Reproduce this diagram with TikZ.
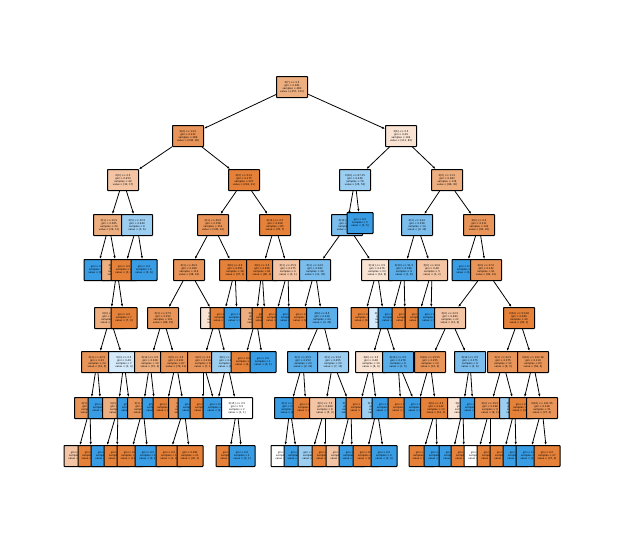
\documentclass[tikz,border=0pt]{standalone}
\usepackage{fontspec}
\setmainfont{DejaVu Sans}
\usetikzlibrary{arrows.meta}
\definecolor{O0}{HTML}{E58139}\definecolor{O1}{HTML}{E99559}\definecolor{O2}{HTML}{EEAF80}
\definecolor{O3}{HTML}{F3C5A4}\definecolor{O4}{HTML}{F9E3D3}
\definecolor{B0}{HTML}{399DE5}\definecolor{B1}{HTML}{5AAEEA}\definecolor{B2}{HTML}{7BBEEE}
\definecolor{B3}{HTML}{9CCEF2}\definecolor{B4}{HTML}{D5EAFA}
\tikzset{
 tbox/.style={draw=black,line width=1pt,rounded corners=0.6pt,inner sep=1pt,align=center,
   font=\fontsize{2.5}{3.1}\selectfont,minimum height=21pt},
 inode/.style={tbox,minimum width=31pt},
 lnode/.style={tbox,minimum width=26pt},
 edge/.style={line width=0.8pt,-{Latex[length=3pt,width=2.3pt]}}
}
\newcommand{\tnode}[5]{\node[inode,fill=#4] (#1) at (#2,#3) {#5};}
\newcommand{\tleaf}[6]{\node[lnode,fill=#4] (#1) at (#2,#3) {gini = 0.0\\samples = #5\\value = #6};}
\begin{document}
\begin{tikzpicture}[x=1pt,y=-1pt]
\useasboundingbox (0,0) rectangle (617,538);
% nodes
\tnode{r}{292}{87}{O2}{X[7] <= 0.5\\gini = 0.381\\samples = 480\\value = [357, 123]}
\tnode{a}{188}{136}{O1}{X[0] <= 14.5\\gini = 0.232\\samples = 286\\value = [248, 38]}
\tnode{b}{401}{136}{O4}{X[6] <= 0.5\\gini = 0.49\\samples = 194\\value = [111, 83]}
\tnode{aa}{123}{180}{O3}{X[0] <= 0.5\\gini = 0.453\\samples = 49\\value = [32, 17]}
\tnode{ab}{244}{180}{O0}{X[0] <= 51.5\\gini = 0.175\\samples = 237\\value = [216, 21]}
\tnode{ba}{355}{180}{B3}{X[10] <= 67.15\\gini = 0.436\\samples = 78\\value = [25, 53]}
\tnode{bb}{447}{180}{O2}{X[0] <= 11.5\\gini = 0.383\\samples = 116\\value = [86, 30]}
% level 3
\tnode{aaa}{109}{225}{O2}{X[1] <= 20.5\\gini = 0.365\\samples = 40\\value = [29, 11]}
\tnode{aab}{137}{225}{B3}{X[5] <= 32.5\\gini = 0.444\\samples = 9\\value = [3, 6]}
\tnode{aba}{213}{225}{O1}{X[1] <= 49.5\\gini = 0.158\\samples = 152\\value = [138, 14]}
\tnode{abb}{275}{225}{O0}{X[12] <= 0.5\\gini = 0.208\\samples = 85\\value = [78, 7]}
\tnode{baa}{347}{225}{B2}{X[10] <= 0.5\\gini = 0.415\\samples = 73\\value = [25, 48]}
\tleaf{bab}{360}{223}{B0}{5}{[0, 5]}
\tnode{bba}{417}{225}{B2}{X[1] <= 34.0\\gini = 0.339\\samples = 14\\value = [4, 10]}
\tnode{bbb}{479}{225}{O1}{X[0] <= 0.5\\gini = 0.311\\samples = 102\\value = [82, 20]}
% level 4
\tleaf{l4a}{97}{270}{B0}{3}{[0, 3]}
\tnode{n4b}{117}{270}{O2}{X[1] <= 32.0\\gini = 0.329\\samples = 37\\value = [29, 8]}
\tleaf{l4c}{124}{270}{O0}{3}{[3, 0]}
\tleaf{l4d}{144}{270}{B0}{6}{[0, 6]}
\tnode{n4e}{189}{270}{O1}{X[1] <= 46.5\\gini = 0.189\\samples = 114\\value = [98, 16]}
\tnode{n4f}{235}{270}{O0}{X[0] <= 4.5\\gini = 0.051\\samples = 38\\value = [37, 1]}
\tnode{n4g}{262}{270}{O0}{X[0] <= 2.5\\gini = 0.026\\samples = 81\\value = [80, 1]}
\tnode{n4h}{288}{270}{O3}{X[1] <= 25.5\\gini = 0.375\\samples = 4\\value = [3, 1]}
\tnode{n4i}{315}{270}{B2}{X[1] <= 24.5\\gini = 0.362\\samples = 46\\value = [11, 35]}
\tnode{n4j}{377}{270}{O4}{X[12] <= 0.5\\gini = 0.476\\samples = 23\\value = [14, 9]}
\tnode{n4k}{404}{270}{B1}{X[10] <= 51.5\\gini = 0.198\\samples = 9\\value = [1, 8]}
\tnode{n4l}{432}{270}{O3}{X[0] <= 20.0\\gini = 0.48\\samples = 5\\value = [3, 2]}
\tleaf{l4m}{465}{270}{B0}{2}{[0, 2]}
\tnode{n4n}{486}{270}{O1}{X[0] <= 27.0\\gini = 0.142\\samples = 91\\value = [82, 10]}
% level 5
\tnode{n5a}{110}{318}{O2}{X[0] <= 3.5\\gini = 0.365\\samples = 30\\value = [22, 8]}
\tleaf{l5b}{124}{318}{O0}{7}{[7, 0]}
\tnode{n5c}{163}{318}{O1}{X[1] <= 27.5\\gini = 0.252\\samples = 101\\value = [86, 15]}
\tnode{n5d}{216}{318}{O4}{X[0] <= 5.5\\gini = 0.498\\samples = 13\\value = [7, 6]}
\tleaf{l5e}{223}{318}{O0}{37}{[37, 0]}
\tleaf{l5f}{237}{318}{B0}{1}{[0, 1]}
\tnode{n5g}{256}{318}{O2}{X[0] <= 1.5\\gini = 0.32\\samples = 5\\value = [4, 1]}
\tleaf{l5h}{265}{318}{O0}{76}{[76, 0]}
\tleaf{l5i}{275}{318}{O0}{3}{[3, 0]}
\tleaf{l5j}{289}{318}{B0}{1}{[0, 1]}
\tleaf{l5k}{302}{318}{O0}{2}{[2, 0]}
\tnode{n5l}{322}{318}{B1}{X[0] <= 8.5\\gini = 0.129\\samples = 44\\value = [3, 41]}
\tleaf{l5m}{364}{318}{O0}{10}{[10, 0]}
\tnode{n5n}{384}{318}{B4}{X[10] <= 16.0\\gini = 0.426\\samples = 13\\value = [4, 9]}
\tleaf{l5o}{391}{318}{B0}{8}{[0, 8]}
\tleaf{l5p}{405}{318}{O0}{1}{[1, 0]}
\tleaf{l5q}{418}{318}{O0}{3}{[3, 0]}
\tleaf{l5r}{431}{318}{B0}{2}{[0, 2]}
\tnode{n5s}{450}{318}{O3}{X[0] <= 22.5\\gini = 0.483\\samples = 22\\value = [13, 9]}
\tnode{n5t}{519}{318}{O0}{X[10] <= 53.08\\gini = 0.049\\samples = 40\\value = [39, 1]}
% level 6
\tnode{n6a}{97}{362}{O1}{X[1] <= 42.5\\gini = 0.33\\samples = 24\\value = [19, 5]}
\tnode{n6b}{124}{362}{B4}{X[4] <= 0.5\\gini = 0.49\\samples = 7\\value = [3, 4]}
\tnode{n6c}{150}{362}{O2}{X[12] <= 0.5\\gini = 0.328\\samples = 19\\value = [15, 4]}
\tnode{n6d}{176}{362}{O1}{X[0] <= 3.5\\gini = 0.221\\samples = 87\\value = [76, 11]}
\tnode{n6e}{203}{362}{O1}{X[0] <= 2.0\\gini = 0.219\\samples = 8\\value = [7, 1]}
\tnode{n6f}{227}{362}{B3}{X[0] <= 4.5\\gini = 0.444\\samples = 5\\value = [2, 3]}
\tleaf{l6g}{244}{362}{O0}{4}{[4, 0]}
\tleaf{l6h}{263}{362}{B0}{1}{[0, 1]}
\tnode{n6i}{303}{362}{B1}{X[1] <= 45.5\\gini = 0.153\\samples = 24\\value = [2, 22]}
\tnode{n6j}{333}{362}{B3}{X[1] <= 33.0\\gini = 0.455\\samples = 20\\value = [7, 13]}
\tnode{n6k}{371}{362}{O4}{X[8] <= 3.5\\gini = 0.48\\samples = 10\\value = [6, 4]}
\tnode{n6l}{398}{362}{B1}{X[10] <= 0.5\\gini = 0.278\\samples = 6\\value = [1, 5]}
\tnode{n6m}{430}{362}{O1}{X[10] <= 29.55\\gini = 0.255\\samples = 14\\value = [12, 2]}
\tnode{n6n}{470}{362}{B2}{X[12] <= 0.5\\gini = 0.375\\samples = 8\\value = [2, 6]}
\tnode{n6o}{503}{362}{O1}{X[1] <= 42.5\\gini = 0.375\\samples = 12\\value = [9, 3]}
\tnode{n6p}{533}{362}{O1}{X[10] <= 102.38\\gini = 0.119\\samples = 63\\value = [59, 4]}
% level 7
\tnode{n7a}{90}{408}{O1}{X[1] <= 39.5\\gini = 0.227\\samples = 23\\value = [20, 3]}
\tleaf{l7b}{101}{408}{B0}{1}{[0, 1]}
\tnode{n7c}{118}{408}{O2}{X[0] <= 1.5\\gini = 0.375\\samples = 4\\value = [3, 1]}
\tleaf{l7d}{130}{408}{B0}{3}{[0, 3]}
\tnode{n7e}{143}{408}{O1}{X[1] <= 30.5\\gini = 0.245\\samples = 14\\value = [12, 2]}
\tleaf{l7f}{155}{408}{B0}{1}{[0, 1]}
\tleaf{l7g}{166}{408}{O0}{62}{[62, 0]}
\tnode{n7h}{184}{408}{O1}{X[0] <= 5.5\\gini = 0.165\\samples = 22\\value = [20, 2]}
\tleaf{l7i}{191}{408}{B0}{1}{[0, 1]}
\tleaf{l7j}{203}{408}{O0}{7}{[7, 0]}
\tleaf{l7k}{216}{408}{B0}{1}{[0, 1]}
\tnode{n7l}{237}{408}{white}{X[15] <= 0.5\\gini = 0.5\\samples = 2\\value = [1, 1]}
\tnode{n7m}{290}{408}{B0}{X[1] <= 36.5\\gini = 0.083\\samples = 23\\value = [1, 22]}
\tleaf{l7n}{306}{408}{O0}{1}{[1, 0]}
\tnode{n7o}{325}{408}{O3}{X[3] <= 7.5\\gini = 0.469\\samples = 8\\value = [5, 3]}
\tnode{n7p}{351}{408}{B1}{X[1] <= 38.5\\gini = 0.278\\samples = 12\\value = [2, 10]}
\tleaf{l7q}{359}{408}{O0}{2}{[2, 0]}
\tnode{n7r}{377}{408}{B3}{X[10] <= 8.05\\gini = 0.444\\samples = 6\\value = [2, 4]}
\tleaf{l7s}{385}{408}{B0}{4}{[0, 4]}
\tleaf{l7t}{401}{408}{O0}{1}{[1, 0]}
\tleaf{l7u}{417}{408}{B0}{5}{[0, 5]}
\tnode{n7v}{436}{408}{O0}{X[4] <= 4.5\\gini = 0.142\\samples = 13\\value = [12, 1]}
\tnode{n7w}{463}{408}{O4}{X[2] <= 1.5\\gini = 0.5\\samples = 4\\value = [2, 2]}
\tleaf{l7x}{473}{408}{B0}{4}{[0, 4]}
\tnode{n7y}{490}{408}{O1}{X[2] <= 29.5\\gini = 0.198\\samples = 9\\value = [8, 1]}
\tnode{n7z}{515}{408}{B3}{X[0] <= 38.0\\gini = 0.444\\samples = 3\\value = [1, 2]}
\tleaf{l7A}{522}{408}{O0}{32}{[32, 0]}
\tnode{n7B}{542}{408}{O1}{X[10] <= 101.55\\gini = 0.128\\samples = 31\\value = [27, 4]}
% level 8
\tleaf{l8a}{77}{456}{O3}{3}{[2, 1]}
\tleaf{l8b}{91}{456}{O0}{20}{[20, 0]}
\tleaf{l8c}{104}{456}{B0}{1}{[0, 1]}
\tleaf{l8d}{117}{456}{O0}{3}{[3, 0]}
\tleaf{l8e}{130}{456}{O0}{11}{[11, 0]}
\tleaf{l8f}{148}{456}{B0}{1}{[0, 1]}
\tleaf{l8g}{169}{456}{O0}{1}{[1, 0]}
\node[lnode,fill=O0] (l8h) at (190,456) {gini = 0.091\\samples = 21\\value = [20, 1]};
\tleaf{l8i}{229}{456}{O0}{1}{[1, 0]}
\tleaf{l8j}{242}{456}{B0}{1}{[0, 1]}
\node[lnode,fill=white] (l8k) at (284,456) {gini = 0.5\\samples = 2\\value = [1, 1]};
\tleaf{l8l}{297}{456}{B0}{21}{[0, 21]}
\node[lnode,fill=B3] (l8m) at (311,456) {gini = 0.444\\samples = 3\\value = [1, 2]};
\tleaf{l8n}{325}{456}{O0}{4}{[4, 0]}
\node[lnode,fill=O3] (l8o) at (339,456) {gini = 0.5\\samples = 2\\value = [1, 1]};
\tleaf{l8p}{352}{456}{B0}{10}{[0, 10]}
\tleaf{l8q}{366}{456}{O0}{2}{[2, 0]}
\tleaf{l8r}{384}{456}{B0}{4}{[0, 4]}
\tleaf{l8s}{422}{456}{O0}{12}{[12, 0]}
\tleaf{l8t}{437}{456}{B0}{1}{[0, 1]}
\tleaf{l8u}{452}{456}{B0}{2}{[0, 2]}
\tleaf{l8v}{464}{456}{O0}{2}{[2, 0]}
\node[lnode,fill=white] (l8w) at (477,456) {gini = 0.5\\samples = 2\\value = [1, 1]};
\tleaf{l8x}{490}{456}{O0}{7}{[7, 0]}
\tleaf{l8y}{503}{456}{O0}{1}{[1, 0]}
\tleaf{l8z}{516}{456}{B0}{2}{[0, 2]}
\tleaf{l8A}{529}{456}{B0}{1}{[0, 1]}
\node[lnode,fill=O0] (l8B) at (547,456) {gini = 0.0\\samples = 27\\value = [27, 0]};
% edges
\foreach \p/\c in {r/a,r/b,a/aa,a/ab,b/ba,b/bb,aa/aaa,aa/aab,ab/aba,ab/abb,ba/baa,ba/bab,bb/bba,bb/bbb,
 aaa/l4a,aaa/n4b,aab/l4c,aab/l4d,aba/n4e,aba/n4f,abb/n4g,abb/n4h,baa/n4i,baa/n4j,bba/n4k,bba/n4l,bbb/l4m,bbb/n4n,
 n4b/n5a,n4b/l5b,n4e/n5c,n4e/n5d,n4f/l5e,n4f/l5f,n4g/n5g,n4g/l5h,n4h/l5i,n4h/l5j,n4i/l5k,n4i/n5l,n4j/l5m,n4j/n5n,
 n4k/l5o,n4k/l5p,n4l/l5q,n4l/l5r,n4n/n5s,n4n/n5t,
 n5a/n6a,n5a/n6b,n5c/n6c,n5c/n6d,n5d/n6e,n5d/n6f,n5g/l6g,n5g/l6h,n5l/n6i,n5l/n6j,n5n/n6k,n5n/n6l,n5s/n6m,n5s/n6n,n5t/n6o,n5t/n6p,
 n6a/n7a,n6a/l7b,n6b/n7c,n6b/l7d,n6c/n7e,n6c/l7f,n6d/l7g,n6d/n7h,n6e/l7j,n6e/l7k,n6f/l7k,n6f/n7l,n6i/n7m,n6i/l7n,n6j/n7o,n6j/n7p,
 n6k/l7q,n6k/n7r,n6l/l7t,n6l/l7u,n6m/l7u,n6m/n7v,n6n/n7w,n6n/l7x,n6o/n7y,n6o/n7z,n6p/l7A,n6p/n7B,
 n7a/l8a,n7a/l8b,n7c/l8c,n7c/l8d,n7e/l8e,n7e/l8f,n7h/l8g,n7h/l8h,n7l/l8i,n7l/l8j,n7m/l8k,n7m/l8l,n7o/l8m,n7o/l8n,n7p/l8o,n7p/l8p,
 n7r/l8q,n7r/l8r,n7v/l8s,n7v/l8t,n7w/l8u,n7w/l8v,n7y/l8w,n7y/l8x,n7z/l8y,n7z/l8z,n7B/l8A,n7B/l8B}
 {\draw[edge] (\p) -- (\c);}
\end{tikzpicture}
\end{document}
